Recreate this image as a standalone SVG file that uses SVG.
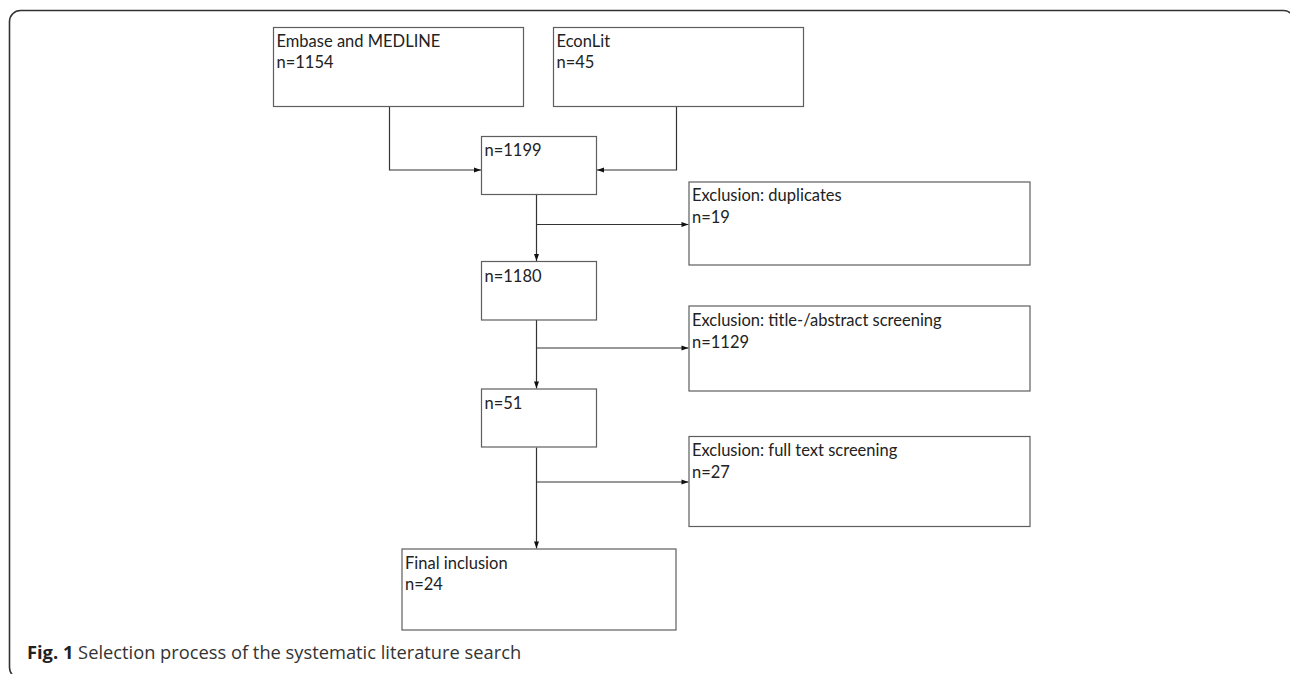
<svg xmlns="http://www.w3.org/2000/svg" width="1290" height="674" viewBox="0 0 1290 674">
<style>
.box{fill:#fff;stroke:#5e5e5e;stroke-width:1.2}
.t{font-family:Lato,"Open Sans","Liberation Sans",sans-serif;font-size:16.5px;fill:#222}
.c{fill:none;stroke:#333;stroke-width:1.2}
.cap{font-family:"Open Sans","Liberation Sans",sans-serif;font-size:18.3px;fill:#333}
</style>
<defs>
<marker id="ah" markerUnits="userSpaceOnUse" markerWidth="8" markerHeight="8" viewBox="0 0 8 8" refX="8" refY="4" orient="auto">
<path d="M1,1.5 L8,4 L1,6.5 Z" fill="#111"/>
</marker>
</defs>
<rect x="9.5" y="10.5" width="1285" height="668" rx="11" fill="none" stroke="#333" stroke-width="1.6"/>
<g id="connectors">
<path class="c" d="M389.5,106.5 V170 H481" marker-end="url(#ah)"/>
<path class="c" d="M676.5,106.5 V170 H597" marker-end="url(#ah)"/>
<path class="c" d="M536.5,194.5 V261" marker-end="url(#ah)"/>
<path class="c" d="M536.5,224.5 H688.5" marker-end="url(#ah)"/>
<path class="c" d="M536.5,320 V388.5" marker-end="url(#ah)"/>
<path class="c" d="M536.5,348 H688.5" marker-end="url(#ah)"/>
<path class="c" d="M536.5,447.5 V548.5" marker-end="url(#ah)"/>
<path class="c" d="M536.5,482 H688.5" marker-end="url(#ah)"/>
</g>
<g id="embase">
<rect class="box" x="273.5" y="27.5" width="250" height="79"/>
<text class="t" x="276.5" y="47">Embase and MEDLINE</text>
<text class="t" x="276.5" y="68">n=1154</text>
</g>
<g id="econlit">
<rect class="box" x="553.5" y="27.5" width="250" height="79"/>
<text class="t" x="556.5" y="47">EconLit</text>
<text class="t" x="556.5" y="68">n=45</text>
</g>
<g id="n1199">
<rect class="box" x="481.5" y="136.5" width="115" height="58"/>
<text class="t" x="484.5" y="156">n=1199</text>
</g>
<g id="dup">
<rect class="box" x="689" y="182" width="341" height="83"/>
<text class="t" x="692" y="201">Exclusion: duplicates</text>
<text class="t" x="692" y="222.5">n=19</text>
</g>
<g id="n1180">
<rect class="box" x="481.5" y="261.5" width="115" height="58.5"/>
<text class="t" x="484.5" y="281.5">n=1180</text>
</g>
<g id="title">
<rect class="box" x="689" y="306" width="341" height="85"/>
<text class="t" x="692" y="326">Exclusion: title-/abstract screening</text>
<text class="t" x="692" y="347.5">n=1129</text>
</g>
<g id="n51">
<rect class="box" x="481.5" y="389" width="115" height="58"/>
<text class="t" x="484.5" y="408.5">n=51</text>
</g>
<g id="fulltext">
<rect class="box" x="689" y="436.5" width="341" height="90"/>
<text class="t" x="692" y="456">Exclusion: full text screening</text>
<text class="t" x="692" y="477.5">n=27</text>
</g>
<g id="final">
<rect class="box" x="402" y="549" width="274" height="81"/>
<text class="t" x="405" y="568.5">Final inclusion</text>
<text class="t" x="405" y="589.5">n=24</text>
</g>
<text class="cap" x="27" y="659"><tspan font-weight="bold" fill="#222">Fig. 1</tspan> Selection process of the systematic literature search</text>
</svg>
